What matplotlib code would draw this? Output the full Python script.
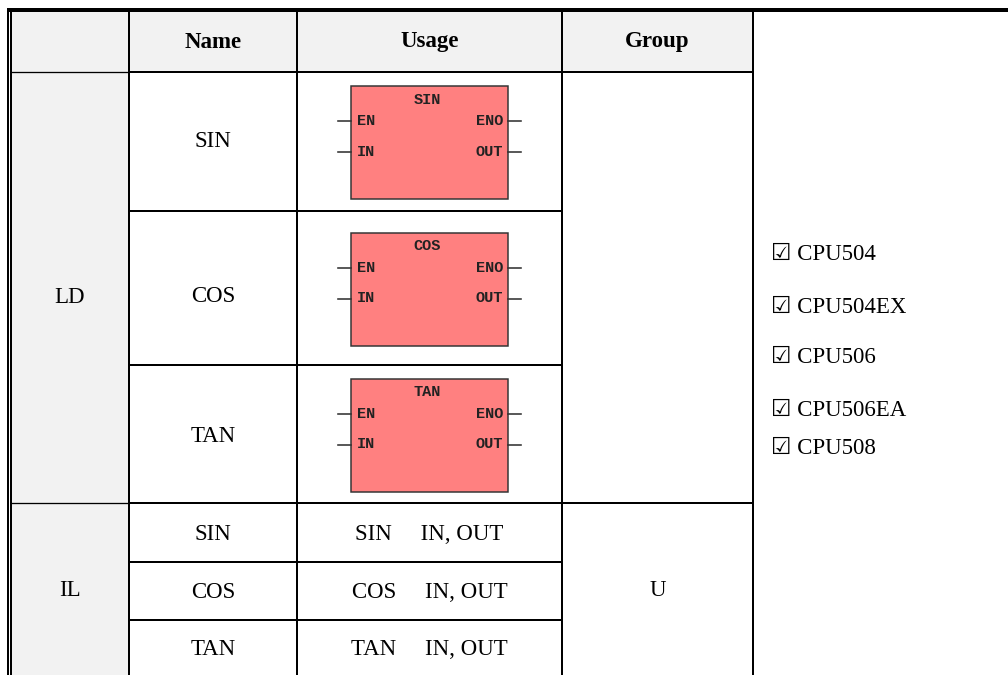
import matplotlib
matplotlib.use("Agg")
import matplotlib.pyplot as plt
from matplotlib.patches import Rectangle

# ---------------- data ----------------
header = ["", "Name", "Usage", "Group"]
languages = ["LD", "IL"]
ld_names = ["SIN", "COS", "TAN"]
block_inputs = ["EN", "IN"]
block_outputs = ["ENO", "OUT"]
il_names = ["SIN", "COS", "TAN"]
il_usage = ["SIN     IN, OUT", "COS     IN, OUT", "TAN     IN, OUT"]
il_group = "U"
cpus = ["CPU504", "CPU504EX", "CPU506", "CPU506EA", "CPU508"]

# ---------------- layout (pixels) ----------------
W, H = 1008, 675
col_x = [11, 129, 297, 562, 753]          # column boundaries
top_y = 10
hdr_bot = 72
ld_rows = [72, 211, 365, 503]
il_rows = [503, 562, 620, 675]
cpu_y = [254, 307, 357, 410, 448]

serif = ["Liberation Serif", "DejaVu Serif"]
mono = ["Liberation Mono", "DejaVu Sans Mono"]
FS = 16.5
GRAY = "#f2f2f2"

def px(v):
    return v * 72.0 / 100.0

fig = plt.figure(figsize=(W / 100, H / 100), dpi=100)
ax = fig.add_axes([0, 0, 1, 1])
ax.set_xlim(0, W)
ax.set_ylim(H, 0)
ax.axis("off")

# gray fills
ax.add_patch(Rectangle((col_x[0], top_y), col_x[1] - col_x[0], H - top_y,
                       facecolor=GRAY, edgecolor="none", zorder=0))
ax.add_patch(Rectangle((col_x[1], top_y), col_x[4] - col_x[1], hdr_bot - top_y,
                       facecolor=GRAY, edgecolor="none", zorder=0))

def hline(y, x0, x1, w=2.0):
    ax.plot([x0, x1], [y, y], color="black", lw=px(w), solid_capstyle="butt", zorder=3)

def vline(x, y0, y1, w=2.0):
    ax.plot([x, x], [y0, y1], color="black", lw=px(w), solid_capstyle="butt", zorder=3)

# borders
hline(top_y, 6.8, W, 4.0)
vline(7.8, top_y, H, 2.0)
vline(11.2, top_y, H, 2.0)
for x in col_x[1:]:
    vline(x, top_y, H)

# horizontal lines
hline(hdr_bot, col_x[0], col_x[1], 1.3)
hline(hdr_bot, col_x[1], col_x[4])
for y in ld_rows[1:-1]:
    hline(y, col_x[1], col_x[3])
hline(ld_rows[-1], col_x[0], col_x[1], 1.3)
hline(ld_rows[-1], col_x[1], col_x[4])
for y in il_rows[1:-1]:
    hline(y, col_x[1], col_x[3])

# header texts
for i, t in enumerate(header):
    if t:
        ax.text((col_x[i] + col_x[i + 1]) / 2, (top_y + hdr_bot) / 2 + 1, t,
                ha="center", va="center", fontsize=FS, fontweight="bold",
                family=serif, color="black")

# language labels
ax.text((col_x[0] + col_x[1]) / 2, (ld_rows[0] + ld_rows[-1]) / 2 + 10, languages[0],
        ha="center", va="center", fontsize=FS, family=serif)
ax.text((col_x[0] + col_x[1]) / 2, (il_rows[0] + il_rows[-1]) / 2 + 1, languages[1],
        ha="center", va="center", fontsize=FS, family=serif)

# LD rows with function blocks
BW, BH = 157, 113
ucx = (col_x[2] + col_x[3]) / 2
label_dy = [0, 9, 3]
for i, name in enumerate(ld_names):
    r0, r1 = ld_rows[i], ld_rows[i + 1]
    cy = (r0 + r1) / 2
    ax.text((col_x[1] + col_x[2]) / 2, cy + label_dy[i], name, ha="center", va="center",
            fontsize=FS, family=serif)
    bx = ucx - BW / 2
    by = cy - BH / 2 + 1
    ax.add_patch(Rectangle((bx, by), BW, BH, facecolor="#ff8080",
                           edgecolor="#333333", lw=px(1.5), zorder=4))
    ax.text(ucx - 2, by + 14, name, ha="center", va="center", fontsize=11,
            family=mono, fontweight="bold", color="#222222", zorder=5)
    for j, (pin_in, pin_out) in enumerate(zip(block_inputs, block_outputs)):
        py = by + 35 + j * 31
        ax.plot([bx - 13, bx], [py, py], color="#333333", lw=px(1.6), zorder=4)
        ax.plot([bx + BW, bx + BW + 13], [py, py], color="#333333", lw=px(1.6), zorder=4)
        ax.text(bx + 6, py, pin_in, ha="left", va="center", fontsize=11,
                family=mono, fontweight="bold", color="#222222", zorder=5)
        ax.text(bx + BW - 5, py, pin_out, ha="right", va="center", fontsize=11,
                family=mono, fontweight="bold", color="#222222", zorder=5)

# IL rows
for i, (name, usage) in enumerate(zip(il_names, il_usage)):
    r0, r1 = il_rows[i], il_rows[i + 1]
    cy = (r0 + r1) / 2 + 2
    ax.text((col_x[1] + col_x[2]) / 2, cy, name, ha="center", va="center",
            fontsize=FS, family=serif)
    ax.text(ucx, cy, usage, ha="center", va="center", fontsize=FS, family=serif)

ax.text((col_x[3] + col_x[4]) / 2, (il_rows[0] + il_rows[-1]) / 2 + 1, il_group,
        ha="center", va="center", fontsize=FS, family=serif)

# CPU list
for y, c in zip(cpu_y, cpus):
    ax.text(771, y, "\u2611 " + c, ha="left", va="center", fontsize=FS,
            family=["Liberation Serif", "DejaVu Sans"])

fig.savefig("out.png", dpi=100)
